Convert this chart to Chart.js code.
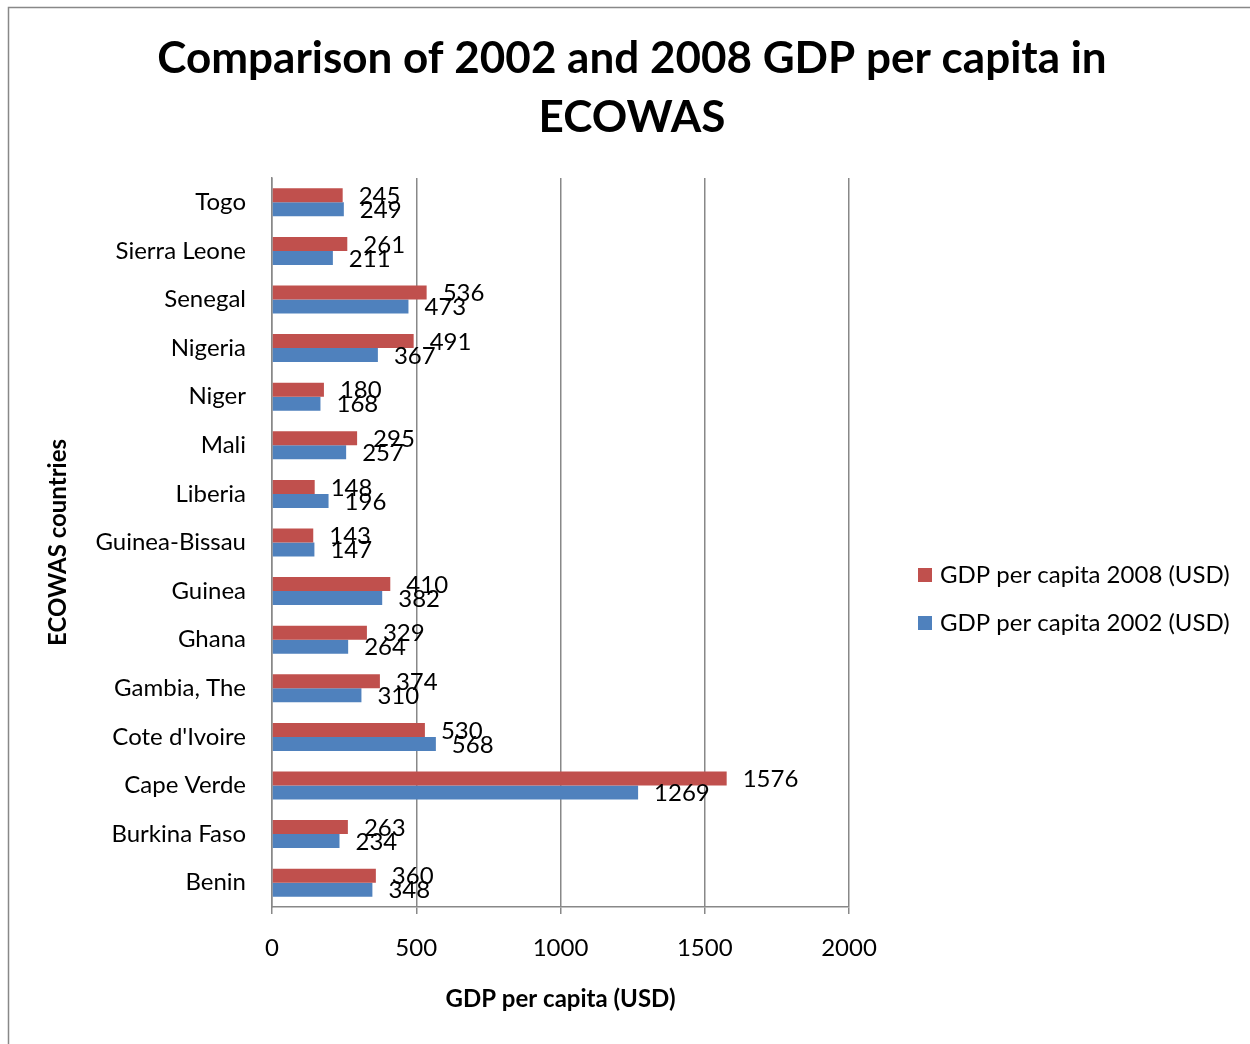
<!DOCTYPE html>
<html>
<head>
<meta charset="utf-8">
<script src="https://cdn.jsdelivr.net/npm/chart.js@4/dist/chart.umd.min.js"></script>
<style>
  html, body { margin: 0; padding: 0; background: #fff; }
  canvas { display: block; }
</style>
</head>
<body>
<canvas id="gdpChart" width="1250" height="1044"></canvas>
<script>
const titleLines = ['Comparison of 2002 and 2008 GDP per capita in', 'ECOWAS'];
const countries = ['Togo', 'Sierra Leone', 'Senegal', 'Nigeria', 'Niger', 'Mali', 'Liberia',
    'Guinea-Bissau', 'Guinea', 'Ghana', 'Gambia, The', "Cote d'Ivoire", 'Cape Verde',
    'Burkina Faso', 'Benin'];
const gdp2008 = [245, 261, 536, 491, 180, 295, 148, 143, 410, 329, 374, 530, 1576, 263, 360];
const gdp2002 = [249, 211, 473, 367, 168, 257, 196, 147, 382, 264, 310, 568, 1269, 234, 348];
const seriesNames = ['GDP per capita 2008 (USD)', 'GDP per capita 2002 (USD)'];
const xTicks = [0, 500, 1000, 1500, 2000];

const FONT = 'Lato, "Open Sans", sans-serif';
const red = '#C0504D';
const blue = '#4F81BD';
const gridGrey = '#888888';

Chart.defaults.font.family = FONT;
Chart.defaults.font.size = 24;
Chart.defaults.color = '#000';

// white page, outer frame and the two-line title
const frame = {
    id: 'frame',
    beforeDraw(chart) {
        const c = chart.ctx;
        c.save();
        c.fillStyle = '#fff';
        c.fillRect(0, 0, chart.width, chart.height);
        c.strokeStyle = gridGrey;
        c.lineWidth = 1.5;
        c.strokeRect(8.5, 7.5, 1300, 1100);
        c.fillStyle = '#000';
        c.font = 'bold 44px ' + FONT;
        c.textAlign = 'center';
        c.textBaseline = 'middle';
        titleLines.forEach((line, i) => c.fillText(line, 632, 59 + i * 59));
        c.restore();
    }
};

// value next to the end of every bar
const barValues = {
    id: 'barValues',
    afterDatasetsDraw(chart) {
        const c = chart.ctx;
        c.save();
        c.font = '24px ' + FONT;
        c.fillStyle = '#000';
        c.textAlign = 'left';
        c.textBaseline = 'middle';
        chart.data.datasets.forEach((ds, di) => {
            chart.getDatasetMeta(di).data.forEach((bar, i) => {
                c.fillText(String(ds.data[i]), bar.x + 16, bar.y + 1);
            });
        });
        c.restore();
    }
};

// legend on the right
const sideLegend = {
    id: 'sideLegend',
    afterDraw(chart) {
        const c = chart.ctx;
        c.save();
        c.font = '24px ' + FONT;
        c.textAlign = 'left';
        c.textBaseline = 'middle';
        chart.data.datasets.forEach((ds, i) => {
            const y = 575 + i * 48;
            c.fillStyle = ds.backgroundColor;
            c.fillRect(918, y - 7, 14, 14);
            c.fillStyle = '#000';
            c.fillText(ds.label, 940, y);
        });
        c.restore();
    }
};

new Chart(document.getElementById('gdpChart'), {
    type: 'bar',
    data: {
        labels: countries,
        datasets: [{
            label: seriesNames[0],
            data: gdp2008,
            backgroundColor: red,
            borderWidth: 0
        }, {
            label: seriesNames[1],
            data: gdp2002,
            backgroundColor: blue,
            borderWidth: 0
        }]
    },
    options: {
        indexAxis: 'y',
        responsive: false,
        animation: false,
        devicePixelRatio: 1,
        categoryPercentage: 0.576,
        barPercentage: 1,
        layout: {
            padding: { top: 178, right: 401, left: 0, bottom: 0 }
        },
        plugins: {
            legend: { display: false },
            tooltip: { enabled: false }
        },
        scales: {
            x: {
                min: 0,
                max: 2000,
                afterBuildTicks(scale) {
                    scale.ticks = xTicks.map(v => ({ value: v }));
                },
                afterFit(scale) {
                    scale.height = 137;
                },
                grid: {
                    color: gridGrey,
                    lineWidth: 1.5,
                    tickLength: 7
                },
                border: { color: gridGrey, width: 1.5 },
                ticks: {
                    padding: 20,
                    color: '#000',
                    callback: v => String(v)
                },
                title: {
                    display: true,
                    text: 'GDP per capita (USD)',
                    font: { weight: 'bold', size: 24 },
                    padding: { top: 4, bottom: 30 }
                }
            },
            y: {
                afterFit(scale) {
                    scale.width = 272;
                },
                grid: { display: false, drawTicks: false },
                border: { display: true, color: gridGrey, width: 1.5 },
                ticks: { padding: 26, autoSkip: false, color: '#000' },
                title: {
                    display: true,
                    text: 'ECOWAS countries',
                    font: { weight: 'bold', size: 24 },
                    padding: { top: 44, bottom: 0 }
                }
            }
        }
    },
    plugins: [frame, barValues, sideLegend]
});
</script>
</body>
</html>
